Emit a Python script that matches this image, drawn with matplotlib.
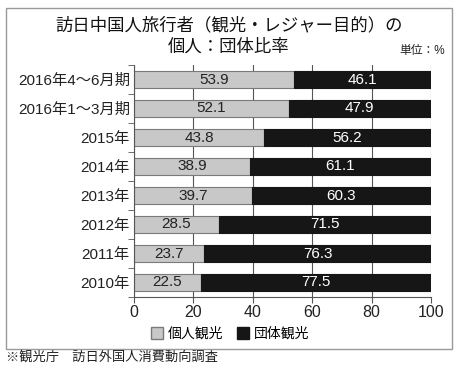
import matplotlib.pyplot as plt
from matplotlib.patches import Rectangle, Patch

plt.rcParams['font.family'] = ['Liberation Sans', 'Noto Sans CJK JP', 'DejaVu Sans']

# データ（単位：%）
categories = ['2016年4～6月期', '2016年1～3月期', '2015年', '2014年',
              '2013年', '2012年', '2011年', '2010年']
kojin = [53.9, 52.1, 43.8, 38.9, 39.7, 28.5, 23.7, 22.5]
dantai = [46.1, 47.9, 56.2, 61.1, 60.3, 71.5, 76.3, 77.5]
xticks = [0, 20, 40, 60, 80, 100]

fig = plt.figure(figsize=(4.58, 3.71), dpi=100)
ax = fig.add_axes([134 / 458, 74 / 371, 297 / 458, 232 / 371])

# 上から順に並べる
y = list(range(len(categories)))[::-1]
ax.barh(y, kojin, height=0.62, color='#c8c8c8', edgecolor='#7a7a7a', linewidth=0.8, zorder=2)
ax.barh(y, dantai, left=kojin, height=0.62, color='#161616', edgecolor='#161616', linewidth=0.8, zorder=2)

for yi, a, b in zip(y, kojin, dantai):
    ax.text(a / 2, yi, f'{a:.1f}', ha='center', va='center', fontsize=11, color='#222222', zorder=3)
    ax.text(a + b / 2, yi, f'{b:.1f}', ha='center', va='center', fontsize=11, color='white', zorder=3)

ax.set_xlim(0, 100)
ax.set_ylim(-0.5, len(categories) - 0.5)
ax.set_xticks(xticks)
ax.set_xticklabels([str(v) for v in xticks], fontsize=11.5, color='#222222')
ax.set_yticks(y)
ax.set_yticklabels(categories, fontsize=11, color='#222222')
ax.set_yticks([v - 0.5 for v in range(len(categories) + 1)], minor=True)
ax.tick_params(axis='y', which='major', length=0, pad=3)
ax.tick_params(axis='y', which='minor', length=4, color='#555555', direction='out')
ax.tick_params(axis='x', length=4, color='#555555', pad=2)
ax.xaxis.grid(True, color='#555555', linewidth=0.8, zorder=0)
ax.set_axisbelow(True)
for s in ['top', 'right']:
    ax.spines[s].set_visible(False)
for s in ['left', 'bottom']:
    ax.spines[s].set_color('#555555')
    ax.spines[s].set_linewidth(0.8)

# タイトル
title_font = ['Noto Sans CJK JP', 'DejaVu Sans']
fig.text(229 / 458, 1 - 25 / 371, '訪日中国人旅行者（観光・レジャー目的）の', ha='center', va='center',
         fontsize=12.5, color='#111111', family=title_font)
fig.text(229 / 458, 1 - 47 / 371, '個人：団体比率', ha='center', va='center',
         fontsize=12.5, color='#111111', family=title_font)
fig.text(445 / 458, 1 - 51 / 371, '単位：%', ha='right', va='center', fontsize=8.5, color='#222222')

# 凡例
handles = [Patch(facecolor='#c8c8c8', edgecolor='#7a7a7a', label='個人観光'),
           Patch(facecolor='#161616', edgecolor='#161616', label='団体観光')]
fig.legend(handles=handles, loc='center', bbox_to_anchor=(230 / 458, 1 - 334 / 371), ncol=2,
           frameon=False, fontsize=10, handlelength=0.9, handleheight=0.9, handletextpad=0.3,
           columnspacing=1.0)

# 枠と出典
fig.patches.append(Rectangle((6 / 458, 1 - 349 / 371), 446 / 458, 341 / 371, transform=fig.transFigure,
                             fill=False, edgecolor='#999999', linewidth=1.0))
fig.text(6 / 458, 1 - 357 / 371, '※観光庁　訪日外国人消費動向調査', ha='left', va='center', fontsize=9.5, color='#222222')

fig.savefig('out.png', dpi=100)
